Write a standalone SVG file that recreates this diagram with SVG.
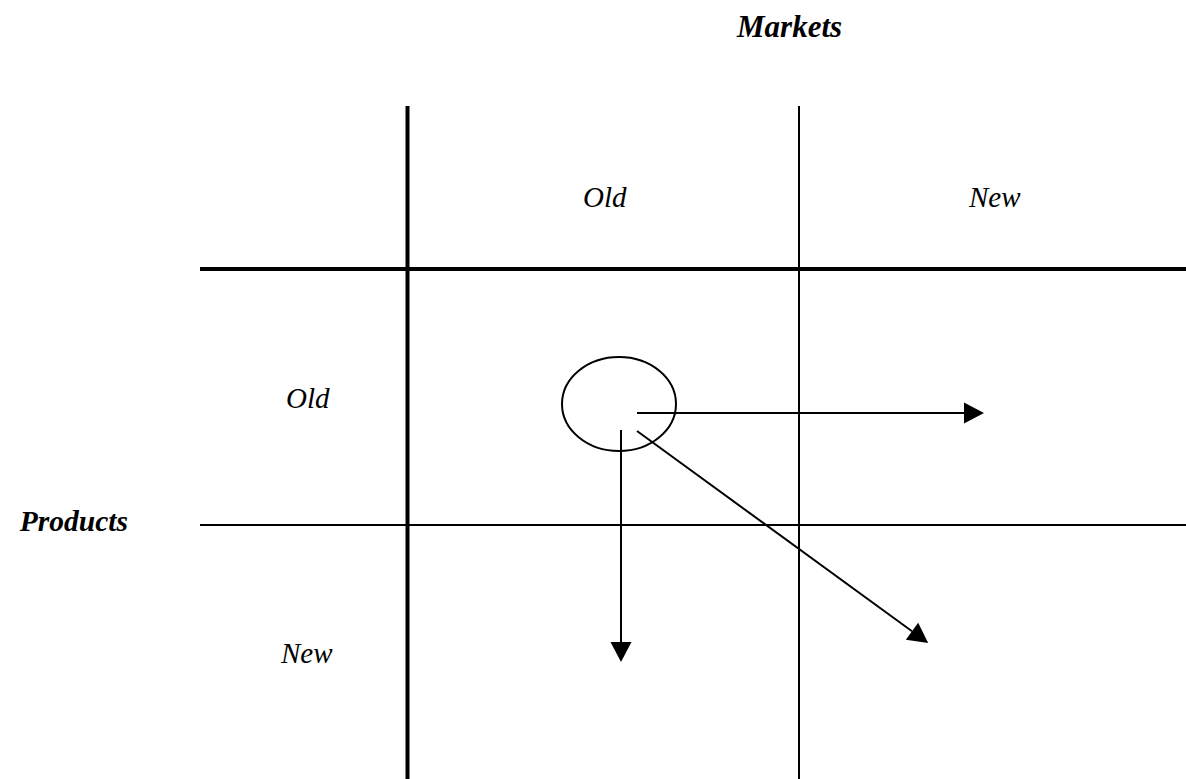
<svg xmlns="http://www.w3.org/2000/svg" width="1186" height="779" viewBox="0 0 1186 779">
<style>
.t{font-family:"Liberation Serif","Times New Roman",serif;font-style:italic;font-size:29px;fill:#000}
.b{font-weight:bold;font-size:31px}
.thick{stroke:#000;stroke-width:4;fill:none}
.thin{stroke:#000;stroke-width:2;fill:none}
</style>
<defs>
<marker id="ah" markerUnits="userSpaceOnUse" markerWidth="20" markerHeight="22" refX="0" refY="10.5" orient="auto" overflow="visible">
<path d="M0,0 L20,10.5 L0,21 z" fill="#000"/>
</marker>
</defs>
<rect width="1186" height="779" fill="#fff"/>
<g id="grid">
<line class="thick" x1="407.5" y1="106" x2="407.5" y2="779"/>
<line class="thin" x1="799" y1="106" x2="799" y2="779"/>
<line class="thick" x1="200" y1="269" x2="1186" y2="269"/>
<line class="thin" x1="200" y1="525" x2="1186" y2="525"/>
</g>
<g id="labels">
<text id="markets" class="t b" x="737" y="37">Markets</text>
<text id="products" class="t b" x="128" y="531" text-anchor="end" style="font-size:29.5px">Products</text>
<text id="col-old" class="t" x="583" y="207">Old</text>
<text id="col-new" class="t" x="969" y="207">New</text>
<text id="row-old" class="t" x="286" y="408">Old</text>
<text id="row-new" class="t" x="281" y="663">New</text>
</g>
<g id="current">
<ellipse class="thin" cx="619" cy="404" rx="57" ry="47"/>
</g>
<g id="connectors">
<line class="thin" x1="637" y1="413" x2="964" y2="413" marker-end="url(#ah)"/>
<line class="thin" x1="621" y1="430" x2="621" y2="642" marker-end="url(#ah)"/>
<line class="thin" x1="637" y1="431" x2="912" y2="631.3" marker-end="url(#ah)"/>
</g>
</svg>
